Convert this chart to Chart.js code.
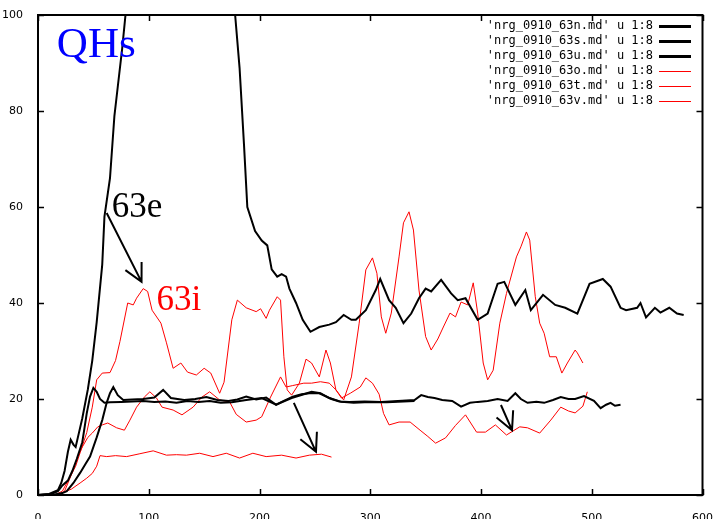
<!DOCTYPE html>
<html lang="en">
<head>
<meta charset="UTF-8">
<title>QHs</title>
<script src="https://cdn.jsdelivr.net/npm/chart.js"></script>
<style>
  body { margin: 0; background: #fff; }
  canvas { display: block; }
</style>
</head>
<body>
<canvas id="chart" width="722" height="519"></canvas>
<script>
// series as [x, y] pairs
const s63n = [[0,0],[10,0.2],[18,1],[21,2.5],[24,5],[27,9],[29.5,11.5],[32,10.5],[34,10],[37,13],[40,16],[45,22],[49,28],[53,36],[58,48],[60,58],[65,66],[69,79],[72,85],[76,93],[79,100],[90,118],[110,135],[130,142],[150,138],[168,122],[178,100],[182,89],[186,73],[189,60],[196,55],[202,53],[207,52],[211,47],[216,45.5],[220,46],[224,45.5],[227,43],[233,40],[239,36.5],[246,34],[254,35],[263,35.5],[269,36],[276,37.5],[283,36.5],[287,36.5],[296,38.5],[305,42.7],[309,45],[317,40.6],[323,39],[330,35.8],[337,37.8],[344,41],[350,43],[355,42.4],[364,44.8],[373,42],[379,40.6],[386,41],[397,36.5],[406,37.8],[415,44],[421,44.4],[431,39.6],[440,42.7],[445,38.5],[456,41.7],[467,39.6],[476,39],[487,37.8],[498,44],[510,45],[517,43.4],[526,39],[531,38.5],[541,39],[544,40],[549,37],[557,39],[562,38],[570,39],[577,37.8],[583,37.5]];
const s63s = [[0,0],[12,0.2],[18,0.8],[22,2],[27,3],[31,5],[35,7.5],[40,11],[44,17],[47,20.5],[50,22.3],[53,21.5],[56,20],[60,19.2],[65,19.3],[75,19.4],[85,19.5],[95,19.6],[105,19.4],[115,19.5],[125,19.2],[135,19.6],[145,19.4],[155,19.6],[165,19.2],[175,19.3],[188,19.8],[202,20.2],[215,18.8],[229,20.2],[240,21],[247,21.5],[255,21.2],[263,20.2],[274,19.4],[285,19.2],[300,19.4],[315,19.3],[330,19.5],[340,19.6]];
const s63u = [[0,0],[15,0.1],[22,0.4],[26,0.8],[32,2.5],[38,4.6],[43,6.5],[47,8],[53,12],[58,15.6],[62,19.2],[65,21.2],[68,22.5],[72,20.8],[77,19.8],[85,19.9],[95,20],[105,20.3],[113,21.9],[120,20.2],[132,19.8],[142,20],[152,20.4],[162,19.8],[172,19.6],[180,19.9],[188,20.5],[197,19.9],[206,20.3],[215,18.8],[222,19.6],[230,20.5],[238,21],[245,21.2],[254,21.2],[265,20],[272,19.5],[281,19.4],[295,19.5],[310,19.4],[325,19.6],[340,19.8],[346,20.8],[352,20.4],[358,20.2],[365,19.8],[374,19.6],[382,18.4],[390,19.2],[397,19.4],[406,19.6],[415,20],[424,19.6],[431,21.2],[436,20],[442,19.2],[450,19.4],[457,19.2],[465,19.8],[472,20.4],[479,20],[485,20],[493,20.6],[502,19.6],[508,18.1],[513,18.8],[517,19.2],[521,18.6],[526,18.8]];
const s63o = [[0,0],[15,0],[22,0.8],[29,3.8],[34,6],[38,8.8],[44,13],[49,18.3],[53,24],[58,25.4],[65,25.5],[70,28],[74,32],[81,40],[86,39.6],[89,41],[95,43],[99,42.4],[103,38.5],[111,35.8],[116,31.7],[122,26.4],[129,27.5],[135,25.6],[143,25],[150,26.4],[156,25.4],[164,21.2],[168,23.5],[175,36.5],[180,40.6],[188,39],[197,38.2],[201,38.8],[206,36.8],[209,38.5],[216,41.3],[219,40.6],[222,28.8],[225,21.9],[229,20.8],[236,23.3],[242,28.3],[247,27.5],[254,24.6],[260,30.2],[264,27.5],[269,21.9],[276,19.8],[283,24.6],[290,35.8],[296,46.9],[302,49.4],[306,46.2],[310,37.1],[314,33.7],[319,37.9],[326,49.6],[330,56.7],[335,59],[339,55.2],[344,42.7],[350,33],[355,30.2],[361,32.5],[366,35],[372,37.9],[377,37.1],[382,40.2],[388,39.6],[393,44.2],[397,37.9],[402,27.5],[406,24],[411,26],[417,35.8],[423,42],[432,49.6],[436,51.7],[441,54.8],[444,53.1],[449,41.3],[453,35.8],[457,33.7],[462,28.8],[468,28.8],[473,25.4],[478,27.5],[485,30.2],[487,29.6],[492,27.5]];
const s63t = [[0,0],[18,0],[24,0.8],[31.5,5],[36,8],[40,10],[45,12],[49,12.9],[54,14.2],[58,14.6],[63,15],[71,14],[78,13.5],[83,15.6],[89,18.3],[96,20.4],[101,21.5],[107,20.2],[112,18.3],[122,17.7],[130,16.7],[140,18.3],[148,20.4],[155,21.5],[164,19.8],[173,19.4],[179,16.8],[188,15.2],[197,15.6],[202,16.3],[210,20.4],[219,24.6],[224,22.5],[230,22.8],[240,23.3],[247,23.3],[255,23.6],[263,23.3],[269,21.9],[274,20.2],[282,21.2],[291,22.5],[296,24.4],[302,23.3],[308,21],[312,17],[317,14.6],[326,15.2],[336,15.2],[345,13.5],[352,12.2],[359,10.8],[368,11.9],[377,14.5],[386,16.7],[396,13.1],[404,13.1],[413,14.6],[423,12.5],[435,14.2],[442,14],[453,12.9],[463,15.6],[472,18.3],[479,17.5],[485,17.1],[492,18.5],[496,21.5]];
const s63v = [[0,0],[18,0],[22,0.5],[30,1.2],[38,2.5],[44,3.5],[49,4.5],[53,6],[56,8.2],[62,8],[70,8.2],[80,8],[92,8.6],[104,9.2],[116,8.3],[125,8.4],[134,8.3],[146,8.7],[158,8],[170,8.7],[182,7.7],[194,8.7],[206,8],[220,8.3],[233,7.7],[245,8.3],[256,8.5],[265,7.9]];

const labels = ["'nrg_0910_63n.md' u 1:8", "'nrg_0910_63s.md' u 1:8", "'nrg_0910_63u.md' u 1:8",
                "'nrg_0910_63o.md' u 1:8", "'nrg_0910_63t.md' u 1:8", "'nrg_0910_63v.md' u 1:8"];
const xTicks = [0, 100, 200, 300, 400, 500, 600];
const yTicks = [0, 20, 40, 60, 80, 100];

// annotations in data units
const notes = [
  { text: 'QHs', x: 17, y: 91.3, color: '#0000ff', size: 43 },
  { text: '63e', x: 66.5, y: 57.9, color: '#000000', size: 35 },
  { text: '63i', x: 107, y: 38.5, color: '#ff0000', size: 35 }
];
const arrows = [[62, 58.75, 93.5, 44.4], [231, 19.2, 251, 9], [418, 18.75, 428, 13.5]];

const toXY = a => a.map(p => ({ x: p[0], y: p[1] }));
const series = [s63n, s63s, s63u, s63o, s63t, s63v];
const colors = ['#000', '#000', '#000', '#ff0000', '#ff0000', '#ff0000'];
const widths = [2, 2, 2, 1, 1, 1];

// ticks, frame, key and notes the gnuplot way
const decor = {
  id: 'decor',
  afterDatasetsDraw(chart) {
    const ctx = chart.ctx;
    const a = chart.chartArea;
    const xs = chart.scales.x, ys = chart.scales.y;
    ctx.save();
    ctx.strokeStyle = '#000';
    ctx.lineWidth = 2;
    ctx.strokeRect(a.left, a.top, a.right - a.left, a.bottom - a.top);
    ctx.lineWidth = 1.5;
    ctx.beginPath();
    xTicks.forEach(v => {
      const px = Math.round(xs.getPixelForValue(v)) + 0.5;
      ctx.moveTo(px, a.bottom); ctx.lineTo(px, a.bottom - 6);
      ctx.moveTo(px, a.top); ctx.lineTo(px, a.top + 6);
    });
    yTicks.forEach(v => {
      const py = Math.round(ys.getPixelForValue(v)) + 0.5;
      ctx.moveTo(a.left, py); ctx.lineTo(a.left + 6, py);
      ctx.moveTo(a.right, py); ctx.lineTo(a.right - 6, py);
    });
    ctx.stroke();

    // key
    ctx.font = '12px "DejaVu Sans Mono"';
    ctx.textAlign = 'right';
    ctx.textBaseline = 'middle';
    chart.data.datasets.forEach((ds, i) => {
      const y = 25.5 + i * 15.1;
      ctx.fillStyle = '#000';
      ctx.fillText(ds.label, 653, y);
      ctx.strokeStyle = ds.borderColor;
      ctx.lineWidth = i < 3 ? 3 : 1;
      ctx.beginPath();
      ctx.moveTo(659, Math.round(y) + 0.5);
      ctx.lineTo(691, Math.round(y) + 0.5);
      ctx.stroke();
    });

    // text notes
    ctx.textAlign = 'left';
    ctx.textBaseline = 'alphabetic';
    notes.forEach(n => {
      ctx.font = n.size + 'px "Liberation Serif"';
      ctx.fillStyle = n.color;
      ctx.fillText(n.text, xs.getPixelForValue(n.x), ys.getPixelForValue(n.y));
    });

    // arrows
    ctx.strokeStyle = '#000';
    ctx.lineWidth = 2;
    arrows.forEach(r => {
      const x1 = xs.getPixelForValue(r[0]), y1 = ys.getPixelForValue(r[1]);
      const x2 = xs.getPixelForValue(r[2]), y2 = ys.getPixelForValue(r[3]);
      const ang = Math.atan2(y2 - y1, x2 - x1);
      const len = 20, spread = 27 * Math.PI / 180;
      ctx.beginPath();
      ctx.moveTo(x1, y1); ctx.lineTo(x2, y2);
      ctx.moveTo(x2 - len * Math.cos(ang - spread), y2 - len * Math.sin(ang - spread));
      ctx.lineTo(x2, y2);
      ctx.lineTo(x2 - len * Math.cos(ang + spread), y2 - len * Math.sin(ang + spread));
      ctx.stroke();
    });
    ctx.restore();
  }
};

new Chart(document.getElementById('chart'), {
  type: 'line',
  data: {
    datasets: series.map((s, i) => ({
      label: labels[i],
      data: toXY(s),
      borderColor: colors[i],
      borderWidth: widths[i],
      pointRadius: 0,
      tension: 0,
      fill: false
    }))
  },
  options: {
    responsive: false,
    animation: false,
    layout: { padding: { top: 15, right: 17, left: 0, bottom: 0 } },
    plugins: { legend: { display: false }, tooltip: { enabled: false } },
    scales: {
      x: {
        type: 'linear', min: 0, max: 600,
        afterBuildTicks: s => { s.ticks = xTicks.map(v => ({ value: v })); },
        afterFit: s => { s.height = 24; },
        grid: { display: false },
        border: { display: false },
        ticks: { color: '#000', padding: 9, maxRotation: 0, font: { family: 'DejaVu Sans', size: 11 } }
      },
      y: {
        type: 'linear', min: 0, max: 100,
        afterBuildTicks: s => { s.ticks = yTicks.map(v => ({ value: v })); },
        afterFit: s => { s.width = 38; },
        grid: { display: false },
        border: { display: false },
        ticks: { color: '#000', padding: 7, font: { family: 'DejaVu Sans', size: 11 } }
      }
    }
  },
  plugins: [decor]
});
</script>
</body>
</html>
